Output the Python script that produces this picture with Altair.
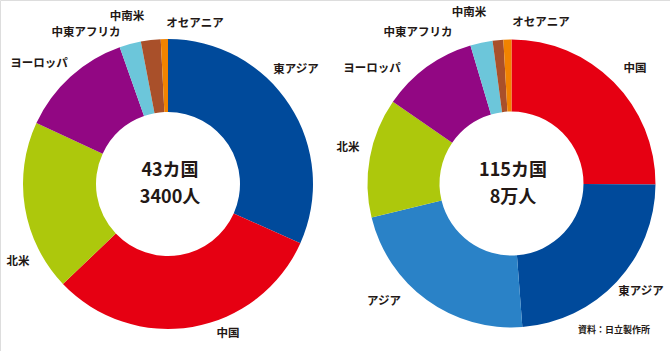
import altair as alt
import pandas as pd

# ---- data (shares, %) ----
left_regions = ["東アジア", "中国", "北米", "ヨーロッパ", "中東アフリカ", "中南米", "オセアニア"]
left_values = [31.7, 31.2, 19.0, 12.7, 2.4, 2.2, 0.8]
left_center = ["43カ国", "3400人"]

right_regions = ["中国", "東アジア", "アジア", "北米", "ヨーロッパ", "中東アフリカ", "中南米", "オセアニア"]
right_values = [25.1, 23.7, 22.4, 13.4, 10.8, 2.5, 1.2, 0.9]
right_center = ["115カ国", "8万人"]

source_note = "資料：日立製作所"

# ---- style ----
color_domain = ["中国", "東アジア", "アジア", "北米", "ヨーロッパ", "中東アフリカ", "中南米", "オセアニア"]
color_range = ["#e60012", "#004a9b", "#2a82c7", "#adc80c", "#920783", "#6cc6da", "#a9502a", "#f18300"]
FONT = "Noto Sans CJK JP"
TEXT_COLOR = "#231815"

# label layout (annotation placement in pixels)
left_label_pos = {
    "東アジア": (296, 70), "中国": (228, 334), "北米": (18, 262), "ヨーロッパ": (39, 64),
    "中東アフリカ": (86, 33), "中南米": (127, 17), "オセアニア": (195, 24),
}
right_label_pos = {
    "中国": (635, 69), "東アジア": (641, 292), "アジア": (384, 302), "北米": (348, 148),
    "ヨーロッパ": (372, 69), "中東アフリカ": (418, 33), "中南米": (469, 13), "オセアニア": (541, 23),
}

W, H = 670, 351


def donut(regions, values, cx, cy, r_out, r_in):
    df = pd.DataFrame({"region": regions, "value": values, "order": list(range(len(regions)))})
    return alt.Chart(df).mark_arc(outerRadius=r_out, innerRadius=r_in).encode(
        theta=alt.Theta("value:Q", stack=True),
        order=alt.Order("order:Q"),
        color=alt.Color("region:N", scale=alt.Scale(domain=color_domain, range=color_range), legend=None),
        x=alt.value(cx),
        y=alt.value(cy),
    )


def labels(pos):
    layers = []
    for name, (x, y) in pos.items():
        layers.append(
            alt.Chart(pd.DataFrame({"t": [name]})).mark_text(
                font=FONT, fontSize=11.5, fontWeight="bold", color=TEXT_COLOR,
                align="center", baseline="middle",
            ).encode(text="t:N", x=alt.value(x), y=alt.value(y))
        )
    return layers


def center_text(lines, cx, y1, y2):
    out = []
    for t, y in zip(lines, (y1, y2)):
        out.append(
            alt.Chart(pd.DataFrame({"t": [t]})).mark_text(
                font=FONT, fontSize=18, fontWeight="bold", color=TEXT_COLOR,
                align="center", baseline="middle",
            ).encode(text="t:N", x=alt.value(cx), y=alt.value(y))
        )
    return out


left = donut(left_regions, left_values, 168, 184, 145, 72)
right = donut(right_regions, right_values, 511.5, 183.5, 144, 72)

note = alt.Chart(pd.DataFrame({"t": [source_note]})).mark_text(
    font=FONT, fontSize=9, fontWeight="bold", color=TEXT_COLOR, align="center", baseline="middle"
).encode(text="t:N", x=alt.value(614), y=alt.value(330))

chart = alt.layer(
    left, right,
    *labels(left_label_pos), *labels(right_label_pos),
    *center_text(left_center, 170, 171, 197.5), *center_text(right_center, 513, 171, 197.5),
    note,
).resolve_scale(theta="independent").properties(
    width=W, height=H, padding=0, autosize=alt.AutoSizeParams(type="none"),
).configure_view(stroke=None).configure(background="white")

chart.save("out.html", embed_options={"renderer": "svg", "actions": False})
